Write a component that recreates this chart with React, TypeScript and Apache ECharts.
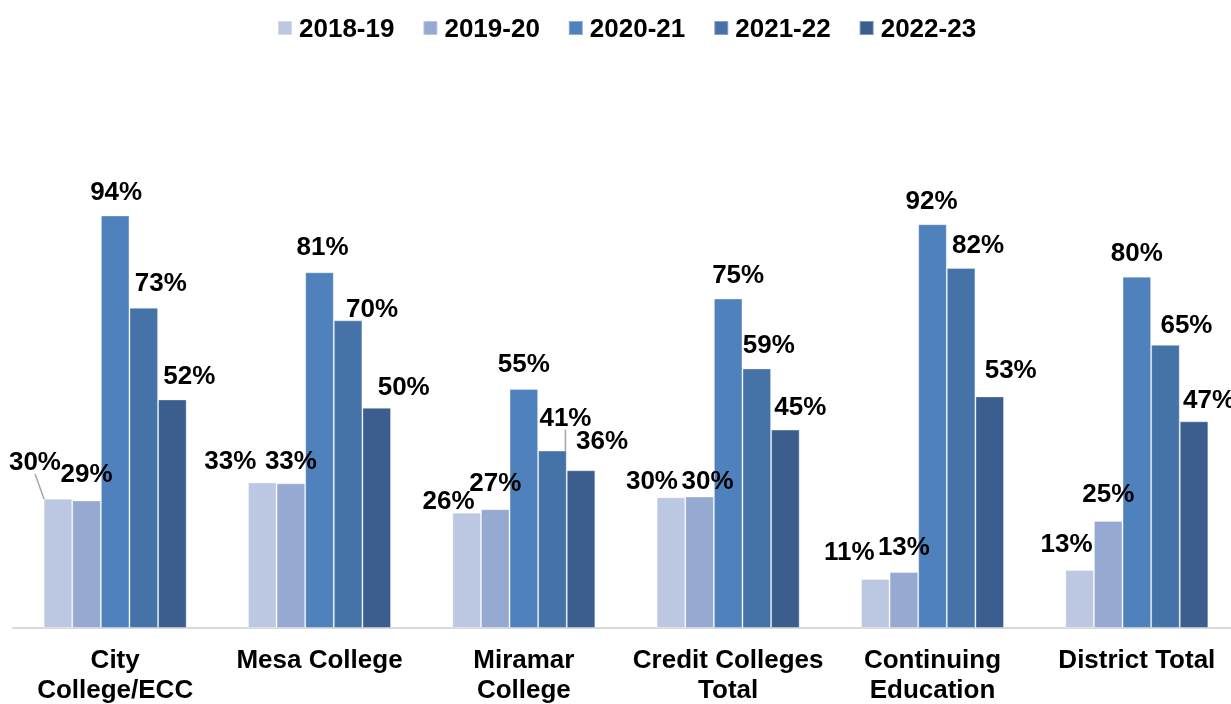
import React, { useEffect, useRef } from "react";
import * as echarts from "echarts";

const categories = [
  "City\nCollege/ECC",
  "Mesa College",
  "Miramar\nCollege",
  "Credit Colleges\nTotal",
  "Continuing\nEducation",
  "District Total",
];
const seriesNames = ["2018-19", "2019-20", "2020-21", "2021-22", "2022-23"];
const v2018 = [29.6, 33.3, 26.4, 29.9, 11.2, 13.3];
const v2019 = [29.2, 33.1, 27.2, 30.1, 12.8, 24.5];
const v2020 = [94.4, 81.4, 54.7, 75.4, 92.4, 80.4];
const v2021 = [73.3, 70.4, 40.6, 59.4, 82.4, 64.8];
const v2022 = [52.3, 50.4, 36.1, 45.4, 53.0, 47.3];
const seriesValues = [v2018, v2019, v2020, v2021, v2022];
const colors = ["#BCC8E1", "#95A9D1", "#4F81BD", "#4572A7", "#3B5E8E"];

// label nudges (dx, dy) per series, per category - layout only
const labelNudges: number[][][] = [
  [[-23, -13], [-32, 3], [-18, 12], [-19, 8], [-26, -3], [-13, -2]],
  [[0, -2], [0, 2], [0, -2], [8, 9], [0, -1], [0, -3]],
  [[1, 1], [3, -1], [0, -1], [10, 0], [-1, 1], [0, 0]],
  [[17, -1], [24, 13], [13, -9], [12, 1], [17, 1], [21, 4]],
  [[17, 1], [27, 3], [21, -5], [15, 1], [21, -2], [15, 3]],
];
const leaderLines: [number, number][] = [
  [0, 0],
  [3, 2],
];

const FONT = "'Liberation Sans', Arial, sans-serif";

export default function App() {
  const ref = useRef<HTMLDivElement>(null);
  useEffect(() => {
    if (!ref.current) return;
    const chart = echarts.init(ref.current, null, { renderer: "svg" });
    const series = seriesNames.map((name, si) => ({
      name,
      type: "bar",
      barGap: "0%",
      barCategoryGap: "30%",
      itemStyle: {
        color: colors[si],
        borderColor: "rgba(255,255,255,0.35)",
        borderWidth: 1,
      },
      label: {
        show: true,
        position: "top",
        distance: 12,
        fontFamily: FONT,
        fontWeight: "bold",
        fontSize: 26,
        color: "#000",
        formatter: (p: any) => Math.round(p.value) + "%",
      },
      labelLayout: (p: any) => {
        const n = labelNudges[si][p.dataIndex];
        const hasLine = leaderLines.some(
          ([s, c]) => s === si && c === p.dataIndex
        );
        const out: any = { dx: n[0], dy: n[1] };
        if (hasLine && p.rect && p.labelRect) {
          const lx = p.labelRect.x + n[0] + p.labelRect.width / 2;
          const ly = p.labelRect.y + n[1] + p.labelRect.height - 2;
          const bx = p.rect.x + p.rect.width / 2;
          const by = p.rect.y;
          out.labelLinePoints = [
            [lx, ly],
            [(lx + bx) / 2, (ly + by) / 2],
            [bx, by],
          ];
        }
        return out;
      },
      data: seriesValues[si].map((v, ci) => {
        const hasLine = leaderLines.some(([s, c]) => s === si && c === ci);
        return hasLine
          ? {
              value: v,
              labelLine: {
                show: true,
                lineStyle: { color: "#A6A6A6", width: 1.5 },
              },
            }
          : { value: v };
      }),
    }));
    chart.setOption({
      animation: false,
      legend: {
        data: seriesNames,
        left: 272,
        top: 10,
        icon: "rect",
        itemWidth: 14,
        itemHeight: 14,
        itemGap: 28,
        textStyle: {
          fontFamily: FONT,
          fontWeight: "bold",
          fontSize: 26,
          color: "#000",
          padding: [0, 0, 0, 2],
        },
      },
      grid: { left: 13, right: 0, top: 191, bottom: 75, containLabel: false },
      xAxis: {
        type: "category",
        data: categories,
        axisLine: { show: true, lineStyle: { color: "#D9D9D9", width: 2 } },
        axisTick: { show: false },
        axisLabel: {
          interval: 0,
          margin: 16,
          fontFamily: FONT,
          fontWeight: "bold",
          fontSize: 26,
          lineHeight: 30,
          color: "#000",
        },
      },
      yAxis: {
        type: "value",
        min: 0,
        max: 100,
        show: false,
        splitLine: { show: false },
      },
      series,
    });
    return () => chart.dispose();
  }, []);
  return (
    <div
      ref={ref}
      style={{ position: "fixed", left: 0, top: 0, width: 1239, height: 704 }}
    />
  );
}
